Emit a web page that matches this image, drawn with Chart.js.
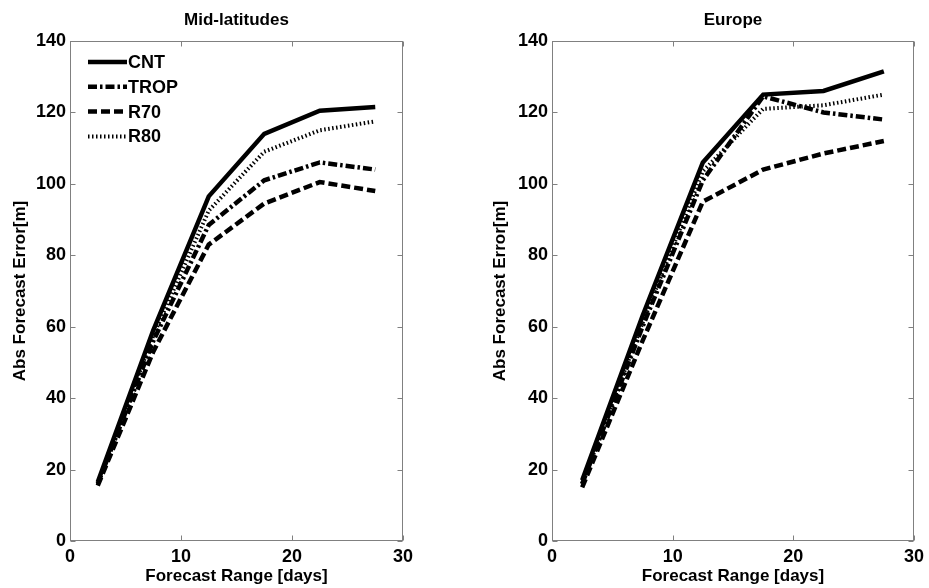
<!DOCTYPE html>
<html>
<head>
<meta charset="utf-8">
<title>Abs Forecast Error</title>
<script src="https://cdn.jsdelivr.net/npm/chart.js@4.4.0/dist/chart.umd.min.js"></script>
<style>
    body { margin: 0; background: #fff; }
    #wrap { position: relative; width: 929px; height: 588px; }
    canvas { position: absolute; top: 0; }
</style>
</head>
<body>
<div id="wrap">
    <canvas id="midChart" width="470" height="588" style="left:0px"></canvas>
    <canvas id="eurChart" width="449" height="588" style="left:480px"></canvas>
</div>
<script>
'use strict';

// forecast range [days] and axis ticks
var days = [2.5, 7.5, 12.5, 17.5, 22.5, 27.5];
var xTicks = [0, 10, 20, 30];
var yTicks = [0, 20, 40, 60, 80, 100, 120, 140];
var runNames = ['CNT', 'TROP', 'R70', 'R80'];

// Mid-latitudes
var midCNT  = [16.5, 59, 96.5, 114, 120.5, 121.5];
var midTROP = [16, 56, 88.5, 101, 106, 104];
var midR70  = [15.5, 53, 83, 94.5, 100.5, 98];
var midR80  = [16, 57.5, 92.5, 109, 115, 117.5];

// Europe
var eurCNT  = [17, 63, 106, 125, 126, 131.5];
var eurTROP = [16, 60, 101, 124.5, 120, 118];
var eurR70  = [15, 56, 95, 104, 108.5, 112];
var eurR80  = [16, 61, 103.5, 121, 122, 125];

var FONT = '"Liberation Sans", Arial, Helvetica, sans-serif';
Chart.defaults.font.family = FONT;
Chart.defaults.color = '#000';

var lineStyles = {
    CNT:  { dash: [], width: 4.5 },
    TROP: { dash: [9, 3, 2.5, 3], width: 4.5 },
    R70:  { dash: [9, 4], width: 4.5 },
    R80:  { dash: [1.5, 2.5], width: 4 }
};

function makeDataset(name, values) {
    var st = lineStyles[name];
    return {
        label: name,
        data: days.map(function (d, i) { return { x: d, y: values[i] }; }),
        borderColor: '#000',
        borderWidth: st.width,
        borderDash: st.dash,
        borderCapStyle: 'butt',
        borderJoinStyle: 'miter',
        pointRadius: 0,
        fill: false,
        tension: 0
    };
}

// box round the axes, inward ticks on all four sides, panel title and legend
var axesBox = {
    id: 'axesBox',
    afterDraw: function (chart, args, opts) {
        var ctx = chart.ctx;
        var a = chart.chartArea;
        var xs = chart.scales.x, ys = chart.scales.y;
        var L = Math.round(a.left) + 0.5, R = Math.round(a.right) - 0.5;
        var T = Math.round(a.top) + 0.5, B = Math.round(a.bottom) - 0.5;

        ctx.save();
        ctx.strokeStyle = '#808080';
        ctx.lineWidth = 1;
        ctx.setLineDash([]);
        ctx.strokeRect(L, T, R - L, B - T);

        ctx.beginPath();
        xs.ticks.forEach(function (t) {
            var px = Math.round(xs.getPixelForValue(t.value)) + 0.5;
            ctx.moveTo(px, B); ctx.lineTo(px, B - 5);
            ctx.moveTo(px, T); ctx.lineTo(px, T + 5);
        });
        ys.ticks.forEach(function (t) {
            var py = Math.round(ys.getPixelForValue(t.value)) + 0.5;
            ctx.moveTo(L, py); ctx.lineTo(L + 5, py);
            ctx.moveTo(R, py); ctx.lineTo(R - 5, py);
        });
        ctx.stroke();

        ctx.fillStyle = '#000';
        ctx.font = 'bold 17px ' + FONT;
        ctx.textAlign = 'center';
        ctx.textBaseline = 'middle';
        ctx.fillText(opts.text, (a.left + a.right) / 2, 20);

        if (opts.legend) {
            ctx.font = 'bold 18px ' + FONT;
            ctx.textAlign = 'left';
            chart.data.datasets.forEach(function (ds, i) {
                var y = a.top + 21 + i * 24.8;
                ctx.beginPath();
                ctx.strokeStyle = ds.borderColor;
                ctx.lineWidth = ds.borderWidth;
                ctx.lineCap = 'butt';
                ctx.setLineDash(ds.borderDash);
                ctx.moveTo(a.left + 18, y);
                ctx.lineTo(a.left + 57, y);
                ctx.stroke();
                ctx.fillText(ds.label, a.left + 58, y + 1);
            });
        }
        ctx.restore();
    }
};

function drawPanel(canvasId, title, series, yWidth, rightPad, showLegend) {
    var ctx = document.getElementById(canvasId);
    return new Chart(ctx, {
        type: 'line',
        data: {
            datasets: runNames.map(function (n, i) { return makeDataset(n, series[i]); })
        },
        options: {
            responsive: false,
            animation: false,
            devicePixelRatio: 1,
            layout: { padding: { left: 0, right: rightPad, top: 41, bottom: 0 } },
            plugins: {
                legend: { display: false },
                tooltip: { enabled: false },
                axesBox: { text: title, legend: showLegend }
            },
            scales: {
                x: {
                    type: 'linear',
                    min: 0, max: 30,
                    afterBuildTicks: function (s) { s.ticks = xTicks.map(function (v) { return { value: v }; }); },
                    afterFit: function (s) { s.height = 47; },
                    grid: { display: false, drawTicks: false },
                    border: { display: false },
                    ticks: { padding: 5, font: { size: 18, weight: 'bold' }, color: '#000' },
                    title: {
                        display: true,
                        text: 'Forecast Range [days]',
                        font: { size: 17, weight: 'bold' },
                        padding: { top: 0, bottom: 1 }
                    }
                },
                y: {
                    type: 'linear',
                    min: 0, max: 140,
                    afterBuildTicks: function (s) { s.ticks = yTicks.map(function (v) { return { value: v }; }); },
                    afterFit: function (s) { s.width = yWidth; },
                    grid: { display: false, drawTicks: false },
                    border: { display: false },
                    ticks: { padding: 4, font: { size: 18, weight: 'bold' }, color: '#000' },
                    title: {
                        display: true,
                        text: 'Abs Forecast Error[m]',
                        font: { size: 17, weight: 'bold' },
                        padding: { top: 10, bottom: 0 }
                    }
                }
            }
        },
        plugins: [axesBox]
    });
}

drawPanel('midChart', 'Mid-latitudes', [midCNT, midTROP, midR70, midR80], 70, 67, true);
drawPanel('eurChart', 'Europe', [eurCNT, eurTROP, eurR70, eurR80], 72, 12, false);
</script>
</body>
</html>
